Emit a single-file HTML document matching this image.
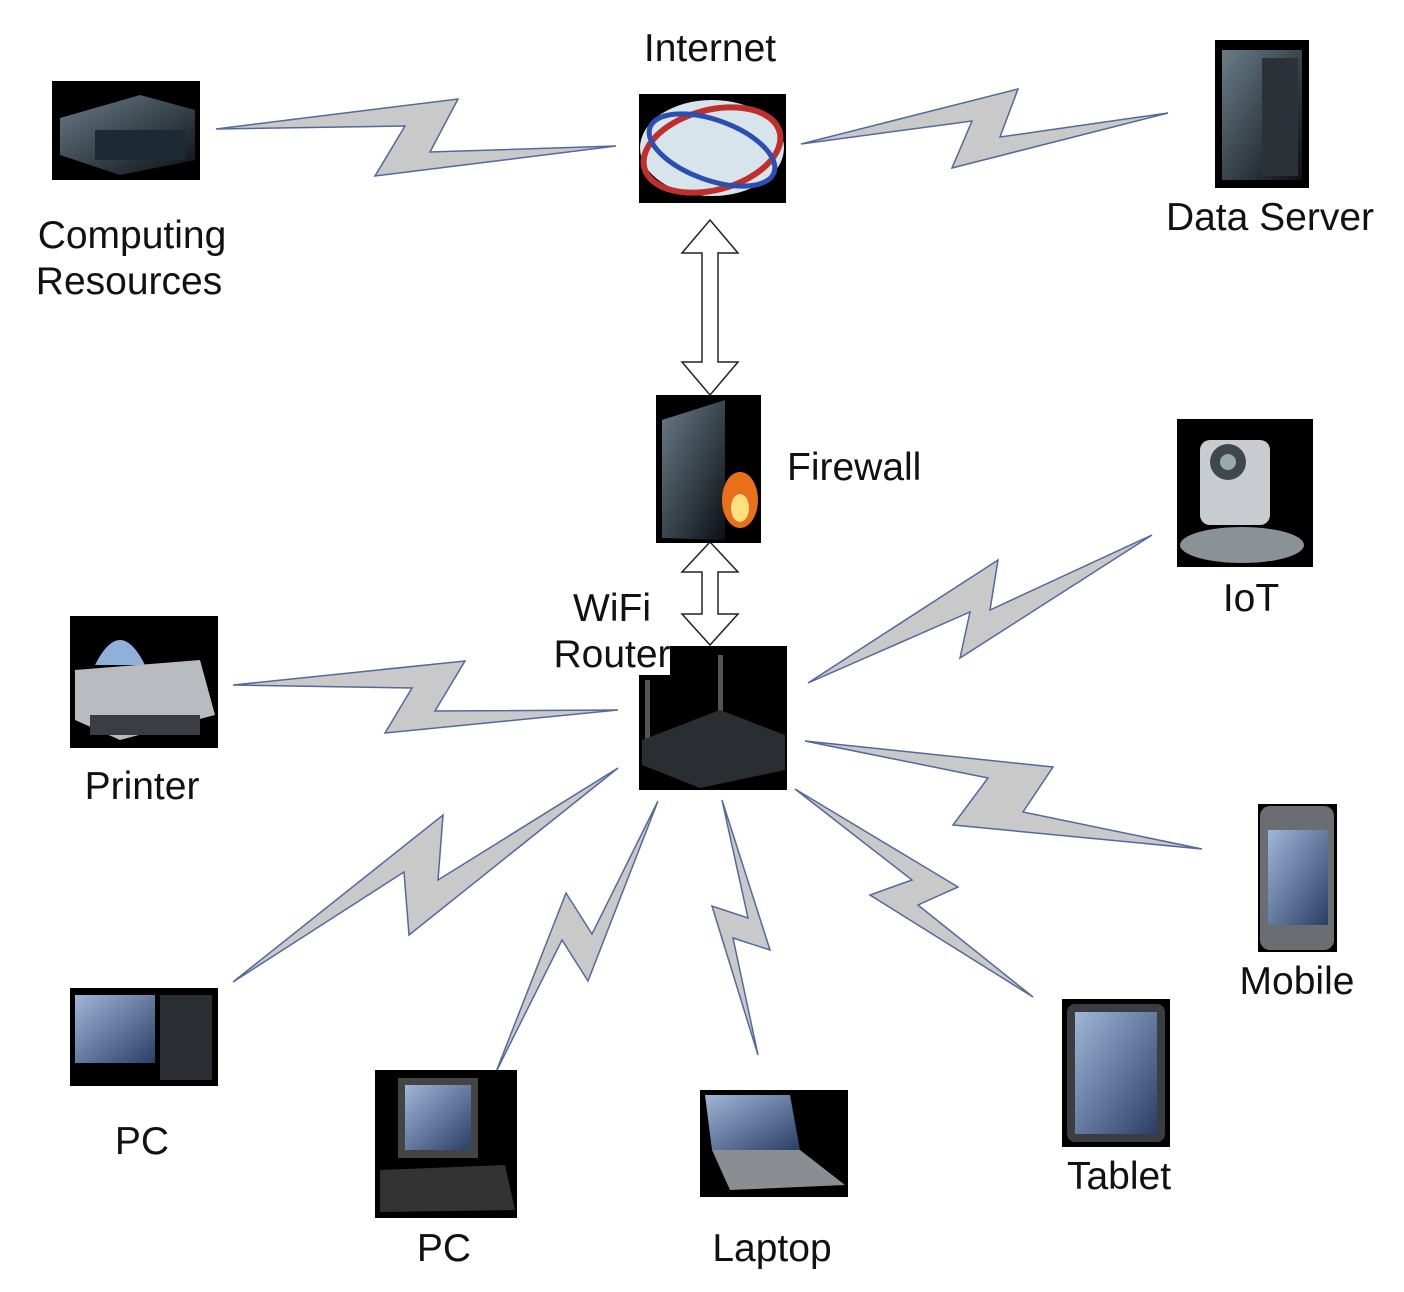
<!DOCTYPE html>
<html><head><meta charset="utf-8"><style>
html,body{margin:0;padding:0;background:#fff;}
svg{display:block}
text{font-family:"Liberation Sans",sans-serif;font-size:39px;fill:#111;}
</style></head><body>
<svg width="1404" height="1292" viewBox="0 0 1404 1292" xmlns="http://www.w3.org/2000/svg">
<defs>
<linearGradient id="g1" x1="0" y1="0" x2="1" y2="1"><stop offset="0" stop-color="#6a7c88"/><stop offset="1" stop-color="#0b1014"/></linearGradient>
<linearGradient id="scr" x1="0" y1="0" x2="1" y2="1"><stop offset="0" stop-color="#9fb6d8"/><stop offset="1" stop-color="#2a3f66"/></linearGradient>
</defs>
<g fill="#c9c9c9" stroke="#5468a0" stroke-width="1.5">
<polygon points="216,129 458,99 430,152 616,146 375,176 405,126"/>
<polygon points="801,144 1018,89 1000,137 1168,113 952,168 972,121"/>
<polygon points="808,683 998,560 990,610 1152,535 960,658 970,612"/>
<polygon points="233,685 465,661 435,711 618,710 385,733 412,688"/>
<polygon points="805,741 1053,767 1023,812 1202,849 953,825 988,778"/>
<polygon points="233,982 443,815 438,880 618,768 409,935 404,872"/>
<polygon points="496,1072 566,893 592,934 658,801 588,981 562,940"/>
<polygon points="722,800 770,950 733,938 758,1055 712,906 748,918"/>
<polygon points="795,789 958,887 918,905 1033,997 870,895 912,880"/>
</g>
<g fill="#fff" stroke="#222" stroke-width="1.5">
<polygon points="710,220 738,253 718,253 718,362 738,362 710,395 682,362 702,362 702,253 682,253"/>
<polygon points="710,542 738,572 718,572 718,614 738,614 710,645 682,614 702,614 702,572 682,572"/>
</g>
<!-- Computing resources -->
<rect x="52" y="81" width="148" height="99" fill="#000"/>
<polygon points="60,118 140,95 195,110 195,160 120,175 60,155" fill="url(#g1)"/>
<rect x="95" y="130" width="90" height="30" fill="#1c2a33"/>
<!-- Internet -->
<rect x="639" y="94" width="147" height="109" fill="#000"/>
<ellipse cx="712" cy="148" rx="72" ry="48" fill="#d8e4ec"/>
<ellipse cx="712" cy="150" rx="70" ry="40" fill="none" stroke="#c0302a" stroke-width="6" transform="rotate(-15 712 150)"/>
<ellipse cx="712" cy="150" rx="66" ry="30" fill="none" stroke="#2a4fb0" stroke-width="5" transform="rotate(20 712 150)"/>
<!-- Data server -->
<rect x="1215" y="40" width="94" height="148" fill="#000"/>
<rect x="1222" y="50" width="80" height="130" fill="url(#g1)"/>
<rect x="1262" y="58" width="36" height="118" fill="#2a3238"/>
<!-- Firewall -->
<rect x="656" y="395" width="105" height="148" fill="#000"/>
<polygon points="662,420 725,400 725,540 662,538" fill="url(#g1)"/>
<ellipse cx="740" cy="500" rx="18" ry="28" fill="#e8701a"/>
<ellipse cx="740" cy="508" rx="9" ry="14" fill="#ffe080"/>
<!-- IoT -->
<rect x="1177" y="419" width="136" height="148" fill="#000"/>
<ellipse cx="1242" cy="545" rx="62" ry="18" fill="#8a9298"/>
<rect x="1200" y="440" width="70" height="85" rx="10" fill="#c8ccd0"/>
<circle cx="1228" cy="462" r="18" fill="#40484e"/>
<circle cx="1228" cy="462" r="8" fill="#9aa"/>
<!-- Router -->
<rect x="639" y="646" width="148" height="144" fill="#000"/>
<rect x="645" y="680" width="5" height="60" fill="#555"/>
<rect x="718" y="655" width="5" height="60" fill="#555"/>
<polygon points="642,740 720,710 785,735 785,770 700,788 642,765" fill="#2a2e32"/>
<!-- Printer -->
<rect x="70" y="616" width="148" height="132" fill="#000"/>
<path d="M95,665 Q120,615 145,665 Z" fill="#8fb0d8"/>
<polygon points="75,670 200,660 215,715 120,740 75,720" fill="#b8bcc0"/>
<rect x="90" y="715" width="110" height="20" fill="#3a3e42"/>
<!-- PC left -->
<rect x="70" y="988" width="148" height="98" fill="#000"/>
<rect x="75" y="995" width="80" height="68" fill="url(#scr)"/>
<rect x="160" y="995" width="52" height="85" fill="#2a2e32"/>
<!-- PC center -->
<rect x="375" y="1070" width="142" height="148" fill="#000"/>
<rect x="398" y="1078" width="80" height="80" fill="#444"/>
<rect x="405" y="1085" width="66" height="65" fill="url(#scr)"/>
<polygon points="380,1170 505,1165 515,1210 380,1212" fill="#333"/>
<!-- Laptop -->
<rect x="700" y="1090" width="148" height="107" fill="#000"/>
<polygon points="705,1095 790,1095 800,1150 712,1150" fill="url(#scr)"/>
<polygon points="712,1150 800,1150 845,1185 730,1190" fill="#8a8e92"/>
<!-- Tablet -->
<rect x="1062" y="999" width="108" height="148" fill="#000"/>
<rect x="1067" y="1004" width="98" height="138" rx="8" fill="#3a3e42"/>
<rect x="1075" y="1012" width="82" height="122" fill="url(#scr)"/>
<!-- Mobile -->
<rect x="1258" y="804" width="79" height="148" fill="#000"/>
<rect x="1260" y="806" width="74" height="144" rx="10" fill="#6a6e72"/>
<rect x="1268" y="830" width="60" height="95" fill="url(#scr)"/>
<!-- labels -->
<rect x="552" y="635" width="118" height="40" fill="#fff"/>
<text x="710" y="61" text-anchor="middle">Internet</text>
<text x="132" y="248" text-anchor="middle">Computing</text>
<text x="129" y="294" text-anchor="middle">Resources</text>
<text x="1270" y="230" text-anchor="middle">Data Server</text>
<text x="787" y="480">Firewall</text>
<text x="1251" y="611" text-anchor="middle">IoT</text>
<text x="612" y="621" text-anchor="middle">WiFi</text>
<text x="612" y="667" text-anchor="middle">Router</text>
<text x="142" y="799" text-anchor="middle">Printer</text>
<text x="1297" y="994" text-anchor="middle">Mobile</text>
<text x="142" y="1154" text-anchor="middle">PC</text>
<text x="1119" y="1189" text-anchor="middle">Tablet</text>
<text x="444" y="1261" text-anchor="middle">PC</text>
<text x="772" y="1261" text-anchor="middle">Laptop</text>
</svg>
</body></html>
